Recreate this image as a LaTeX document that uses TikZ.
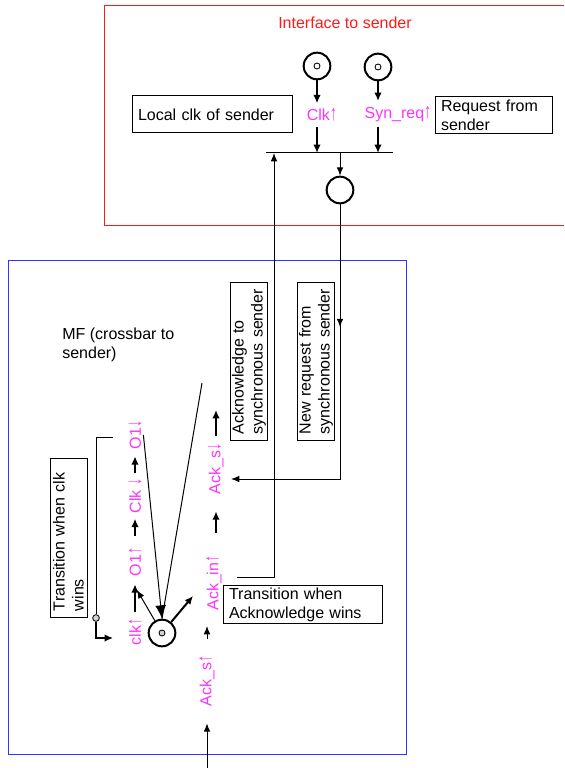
\documentclass[tikz,border=0pt]{standalone}
\usepackage{fontspec}
\setmainfont{Liberation Sans}
\usetikzlibrary{arrows.meta,decorations.markings}
\definecolor{sigmagenta}{rgb}{1.0,0.2,1.0}
\definecolor{mfblue}{rgb}{0.2,0.2,1.0}
\definecolor{ifred}{rgb}{1.0,0.1,0.1}
\newcommand{\sigup}{\scalebox{0.9}[1.35]{↑}}
\newcommand{\sigdn}{\scalebox{0.9}[1.35]{↓}}

\begin{document}
\begin{tikzpicture}[x=0.6pt,y=-0.6pt,
  every node/.style={font=\fontsize{9.6}{11.4}\selectfont},
  sig/.style={text=sigmagenta,inner sep=1pt},
  sigh/.style={sig,inner ysep=3pt},
  sigv/.style={sig,rotate=90},
  note/.style={draw,line width=0.6pt,align=left,inner xsep=3.6pt,inner ysep=1pt,minimum height=22.2pt},
  place/.style={circle,draw,line width=1.2pt,minimum size=16pt,inner sep=0pt},
  token/.style={circle,draw,line width=0.5pt,minimum size=3.6pt,inner sep=0pt},
  joint/.style={circle,draw,fill=gray!35,line width=0.5pt,minimum size=4pt,inner sep=0pt},
  conn/.style={line width=0.6pt},
  arrthin/.style={conn,-{Latex[length=5pt,width=4pt]}},
  arrthick/.style={line width=1.2pt,-{Latex[length=5pt,width=4.5pt]}},
  midarrow/.style={postaction={decorate},decoration={markings,mark=at position #1 with {\arrow{Latex[length=5pt,width=4pt]}}}}
]
\useasboundingbox (0,0) rectangle (564,768);

% frames
\draw[ifred,line width=0.6pt] (564,6) -- (104,6) -- (104,226) -- (564,226);
\draw[mfblue,line width=0.6pt] (8,260) rectangle (406,754);

% interface to sender
\node[text=ifred] (title) at (345,23) {Interface to sender};
\node[place] (pclk) at (317,66) {};
\node[token] at (pclk) {};
\node[place] (psyn) at (378,67) {};
\node[token] at (psyn) {};
\node[sigh] (clk) at (322,115) {Clk\sigup};
\node[sigh] (synreq) at (398,114) {Syn\_req\sigup};
\node[note,text width=88.8pt] (localclk) at (212,114.5) {Local clk of sender};
\node[note,text width=63pt] (reqsender) at (493.5,115.5) {Request from\\sender};
\coordinate (barL) at (266,153);
\coordinate (barR) at (393,153);
\draw[conn] (barL) -- (barR);
\draw[arrthick] (pclk) -- (pclk |- clk.north);
\draw[arrthick] (pclk |- clk.south) -- (pclk |- barL);
\draw[arrthick] (psyn) -- (psyn |- synreq.north);
\draw[arrthick] (psyn |- synreq.south) -- (psyn |- barL);
\node[place] (pout) at (340,190) {};
\draw[arrthin] (pout |- barL) -- (pout);

% MF (crossbar to sender)
\node[anchor=west,align=left,inner sep=0pt] (mf) at (62,345) {MF (crossbar to\\sender)};
\node[note,rotate=90,text width=87.6pt] (ackbox) at (249,361) {Acknowledge to\\synchronous sender};
\node[note,rotate=90,text width=87.6pt] (newreq) at (316,361) {New request from\\synchronous sender};
\node[note,rotate=90,text width=88.2pt] (clkwins) at (68.5,537.5) {Transition when clk\\wins};
\node[note,text width=88.2pt] (ackwins) at (302.5,604.5) {Transition when\\Acknowledge wins};

\node[sigv] (o1dn) at (135,435) {O1\sigdn};
\node[sigv] (clkdn) at (135,496) {Clk \sigdn};
\node[sigv] (o1up) at (135,562) {O1\sigup};
\node[sigv] (clkup) at (135,632) {clk\sigup};
\node[sigv] (ackdn) at (216,469) {Ack\_s\sigdn};
\node[sigv] (ackin) at (214,583) {Ack\_in\sigup};
\node[sigv] (acksup) at (207,681) {Ack\_s\sigup};

\draw[arrthick,shorten <=3pt,shorten >=3.6pt] (clkup.east) -- (o1up.west);
\draw[arrthick,shorten <=6pt,shorten >=2pt] (o1up.east) -- (clkdn.west);
\draw[arrthick,shorten <=2pt,shorten >=3pt] (clkdn.east) -- (o1dn.west);

\coordinate (acktop) at (216,410);
\draw[arrthick,shorten <=3.6pt] (ackdn.east) -- (acktop);
\draw[arrthick,shorten <=12pt,shorten >=9pt] (ackdn.west |- ackin.east) -- (ackdn.west);
\draw[arrthin,shorten <=9pt,shorten >=8pt] (acksup.east) -- (acksup.east |- ackin.west);
\coordinate (entry) at (207,768);
\draw[arrthin,shorten >=9pt] (entry) -- (acksup.west);

% token place of MF
\node[place] (pmain) at (162,633) {};
\node[token,fill=gray!35] at (pmain) {};
\coordinate (fanin) at (202,383);
\draw[conn] (fanin) -- (pmain.north);
\draw[conn,-{Latex[length=8pt,width=6.5pt]}] (o1dn.south) -- (pmain.north);
\coordinate (clkwin) at (137,590);
\coordinate (ackwin) at (193,596);
\draw[arrthin] (pmain) -- (clkwin);
\draw[arrthick] (pmain) -- (ackwin);

% clk wins bracket
\coordinate (brtop) at (113,437);
\node[joint] (brk) at (96,618) {};
\coordinate (brend) at (113,638);
\draw[conn] (brtop) -| (brk);
\draw[line width=0.9pt,-{Latex[length=5pt,width=4.5pt]}] (brk) |- (brend);

% request and acknowledge lines
\coordinate (reqend) at (231,479);
\draw[conn,midarrow=0.32,-{Latex[length=5pt,width=4pt]}] (pout) |- (reqend);
\coordinate (ackstart) at (237,577);
\coordinate (ackbar) at (274,153);
\draw[arrthin] (ackstart) -| (ackbar);
\end{tikzpicture}
\end{document}
